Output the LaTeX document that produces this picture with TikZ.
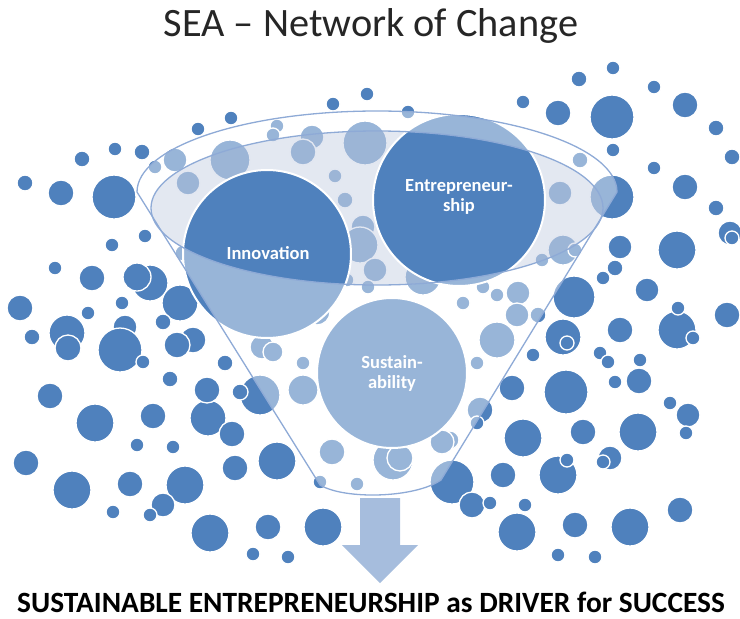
\documentclass[tikz,border=0pt]{standalone}
\usepackage{fontspec}
\setmainfont{Carlito}
\usetikzlibrary{positioning}
\definecolor{bubbleblue}{HTML}{4F81BD}
\definecolor{funnelline}{HTML}{8EAAD6}
\definecolor{arrowblue}{HTML}{A6BDDD}
\definecolor{rimgray}{HTML}{D0D8E8}
\definecolor{titlegray}{HTML}{262626}
\tikzset{
  bubble/.style={fill=bubbleblue, draw=white, line width=1.3pt},
  bigbubble/.style={bubble, line width=2pt},
  funnel/.style={draw=funnelline, line width=1.3pt},
  bubbletext/.style={text=white, font=\bfseries\fontsize{18.5}{20}\selectfont, align=center},
}
\begin{document}
\begin{tikzpicture}[x=1pt, y=-1pt]
    \useasboundingbox (0,0) rectangle (740,619);
    % Left bubbles
    \foreach \x/\y/\r in {25/183/8, 61/193/13, 82/159/8, 115/149/7, 142/152/8, 114/197/22,
        155/167/7, 175/160/12, 198/129/7, 231/118/7, 112/245/7, 145/236/7, 55/268/7,
        92/278/13, 150/283/18, 137/277/14, 20/308/13, 122/303/7, 88/313/7, 180/303/18,
        163/322/8, 193/340/13, 67/333/18, 68/348/13, 32/337/8, 125/327/12, 120/350/22,
        143/362/7, 177/345/13, 170/379/8, 50/396/13, 95/423/19, 153/416/13, 208/418/18,
        207/390/13, 232/434/13, 225/363/8, 260/395/20, 240/392/8, 137/445/7, 173/447/7,
        26/463/13, 72/490/19, 130/484/13, 185/485/19, 163/505/12, 235/468/13, 277/461/19,
        113/512/7, 150/515/7, 210/533/19, 268/527/13, 253/554/7, 288/557/7, 323/527/19} {
        \draw[bubble] (\x,\y) circle (\r pt);
    }
    % Top bubbles
    \foreach \x/\y/\r in {333/104/7, 367/94/7, 408/112/7, 523/102/7, 277/126/7, 273/135/7,
        312/137/12, 303/152/13, 365/143/22, 230/160/20, 188/183/12, 183/253/8} {
        \draw[bubble] (\x,\y) circle (\r pt);
    }
    % Right bubbles
    \foreach \x/\y/\r in {613/68/7, 579/79/8, 654/87/7, 558/113/13, 612/117/22, 685/105/13,
        716/128/8, 613/150/7, 654/168/7, 685/187/13, 732/157/8, 716/208/8, 612/197/22,
        730/233/12, 732/238/7, 677/250/19, 620/247/12, 615/268/8, 603/278/7, 647/290/12,
        580/160/8, 560/193/12, 563/250/15, 575/250/7, 542/260/7, 574/297/21, 563/337/18,
        567/343/7, 533/355/7, 620/330/13, 677/330/19, 678/308/7, 693/338/7, 727/315/13,
        600/353/7, 608/362/7, 640/360/7, 639/381/13, 615/382/7, 512/388/13, 566/392/22,
        670/403/7, 688/415/12, 686/433/7, 480/410/13, 523/438/19, 583/432/13, 638/432/19,
        558/475/19, 567/460/7, 610/458/12, 603/462/7, 503/475/13, 452/482/22, 472/505/13,
        490/503/7, 525/505/7, 517/532/19, 575/525/13, 630/527/19, 680/510/13, 558/555/7,
        595/557/7} {
        \draw[bubble] (\x,\y) circle (\r pt);
    }
    % Bubbles inside the funnel
    \foreach \x/\y/\r in {335/176/7, 345/200/8, 363/227/12, 360/245/18, 375/270/12,
        368/287/7, 347/280/7, 423/277/18, 317/312/13, 262/347/12, 273/352/10, 303/363/7,
        303/390/15, 463/303/7, 483/287/7, 497/295/7, 518/293/12, 517/315/12, 538/315/8,
        497/340/18, 477/363/7, 477/423/7, 450/440/9, 332/452/13, 393/460/20, 400/458/13,
        357/484/7, 320/482/7, 442/442/12} {
        \draw[bubble] (\x,\y) circle (\r pt);
    }
    \draw[bigbubble] (392,373) circle (75pt);
    % Funnel opening
    \fill[rimgray, fill opacity=0.6] (377,208) ellipse [x radius=226pt, y radius=77pt];
    \draw[bigbubble] (267,254) circle (84pt);
    \draw[bigbubble] (459,200) circle (86pt);
    % Funnel body
    \fill[white, fill opacity=0.42, even odd rule] (137,192)
        arc[start angle=180, end angle=0, x radius=240pt, y radius=81pt]
        -- (441,480) .. controls (415,498) and (345,500) .. (320,485) -- cycle
        (377,208) ellipse [x radius=226pt, y radius=77pt];
    \draw[funnel] (137,192)
        arc[start angle=180, end angle=0, x radius=240pt, y radius=81pt]
        -- (441,480) .. controls (415,498) and (345,500) .. (320,485) -- cycle;
    \draw[funnel] (377,208) ellipse [x radius=226pt, y radius=77pt];
    \node[bubbletext] (innovation) at (268,253) {Innovation};
    \node[bubbletext] (entrepreneurship) at (459,197) {Entrepreneur-\\ship};
    \node[bubbletext] (sustainability) at (392,373) {Sustain-\\ability};
    % Arrow
    \fill[arrowblue] (360,498) -- (400,498) -- (400,545) -- (418,545) -- (380,583)
        -- (342,545) -- (360,545) -- cycle;
    \node[anchor=base, text=titlegray, font=\fontsize{40.3}{48}\selectfont] (title)
        at (371,36) {SEA \textendash{} Network of Change};
    \node[anchor=base, text=black, font=\bfseries\fontsize{29.4}{34}\selectfont, inner sep=0pt] (slogan)
        at (371,612) {SUSTAINABLE ENTREPRENEURSHIP as DRIVER for SUCCESS};
\end{tikzpicture}
\end{document}
